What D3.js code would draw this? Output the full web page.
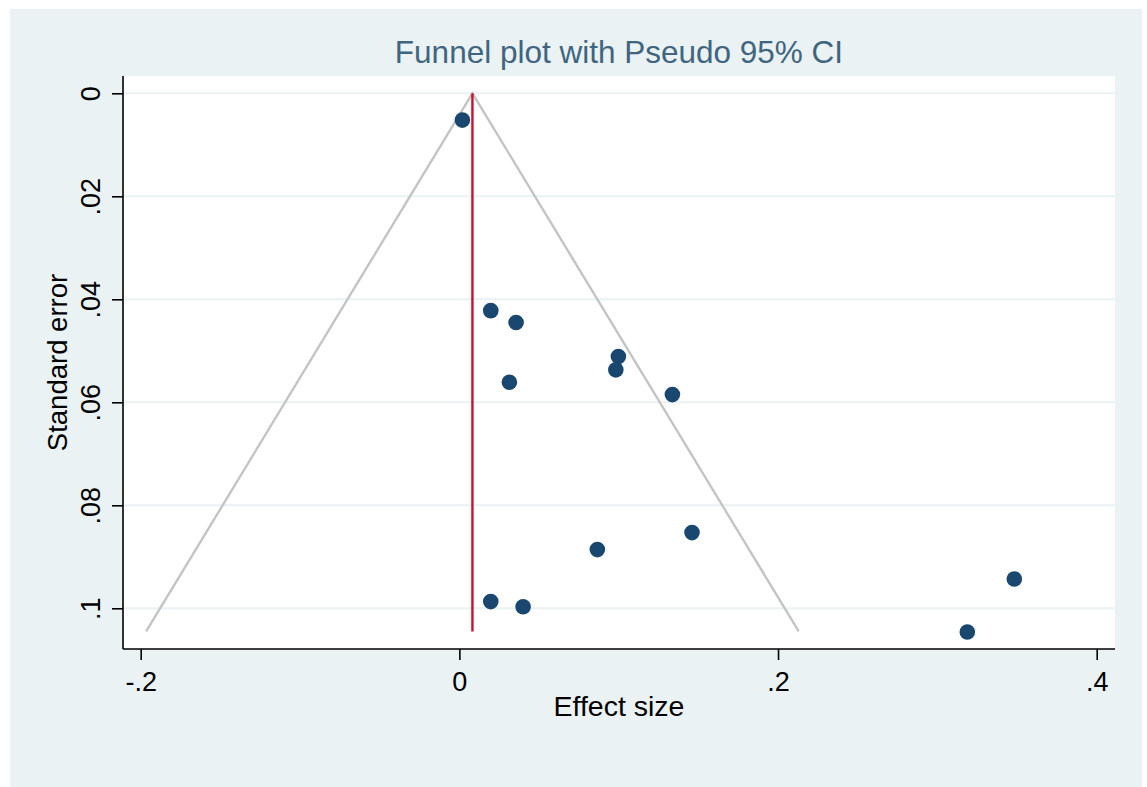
<!DOCTYPE html>
<html>
<head>
<meta charset="utf-8">
<script src="https://cdn.jsdelivr.net/npm/d3@7"></script>
<style>
  body { margin: 0; background: #fff; }
  text { font-family: "Liberation Sans", Arial, sans-serif; }
</style>
</head>
<body>
<div id="chart"></div>
<script>
// study estimates
const effect = [0.0019, 0.0197, 0.0356, 0.0998, 0.0982, 0.0314, 0.1337, 0.1460, 0.0866, 0.3483, 0.0197, 0.0400, 0.3188];
const stdErr = [0.0052, 0.0422, 0.0445, 0.0511, 0.0537, 0.0561, 0.0585, 0.0853, 0.0886, 0.0943, 0.0987, 0.0997, 0.1046];

// pooled estimate and pseudo 95% CI funnel
const pooled = 0.0082;
const funnelX = [-0.1966, 0.0082, 0.2130];
const funnelSE = [0.1045, 0, 0.1045];

const xTicks = [-0.2, 0, 0.2, 0.4];
const yTicks = [0, 0.02, 0.04, 0.06, 0.08, 0.1];
// stata style: drop the leading zero, plain hyphen for minus
const tickLabel = v => v === 0 ? "0" : String(+v.toFixed(2)).replace(/^(-?)0\./, "$1.");

const W = 1147, H = 787;
const plot = { left: 123, right: 1115, top: 76, bottom: 649 };

const svg = d3.select("#chart").append("svg")
  .attr("width", W)
  .attr("height", H);

svg.append("rect")
  .attr("x", 10).attr("y", 9)
  .attr("width", 1132).attr("height", 778)
  .attr("fill", "#eaf2f3");

svg.append("rect")
  .attr("x", plot.left).attr("y", plot.top)
  .attr("width", plot.right - plot.left).attr("height", plot.bottom - plot.top)
  .attr("fill", "#fff");

const x = d3.scaleLinear().domain([-0.2, 0.4]).range([140.7, 1096.7]);
const y = d3.scaleLinear().domain([0, 0.1]).range([93.3, 608.3]);

// grid
svg.append("g").selectAll("line")
  .data(yTicks)
  .enter().append("line")
  .attr("x1", plot.left).attr("x2", plot.right)
  .attr("y1", d => y(d)).attr("y2", d => y(d))
  .attr("stroke", "#eaf2f3")
  .attr("stroke-width", 2);

// funnel
svg.append("path")
  .datum(d3.range(funnelX.length))
  .attr("d", d3.line().x(i => x(funnelX[i])).y(i => y(funnelSE[i])))
  .attr("fill", "none")
  .attr("stroke", "#c4c4c4")
  .attr("stroke-width", 2.4);

svg.append("line")
  .attr("x1", x(pooled)).attr("x2", x(pooled))
  .attr("y1", y(0)).attr("y2", y(funnelSE[0]))
  .attr("stroke", "#c8102e")
  .attr("stroke-width", 2.4);

// points
svg.append("g").selectAll("circle")
  .data(effect)
  .enter().append("circle")
  .attr("cx", d => x(d))
  .attr("cy", (d, i) => y(stdErr[i]))
  .attr("r", 7.8)
  .attr("fill", "#1a476f");

// axes
const gx = svg.append("g")
  .attr("transform", `translate(0,${plot.bottom})`)
  .call(d3.axisBottom(x).tickValues(xTicks).tickSize(11).tickSizeOuter(0).tickFormat(tickLabel));
gx.select(".domain").attr("d", `M${plot.left},0H${plot.right}`);
gx.selectAll("text")
  .attr("y", 42).attr("dy", 0)
  .attr("font-size", 27)
  .attr("fill", "#000");

const gy = svg.append("g")
  .attr("transform", `translate(${plot.left},0)`)
  .call(d3.axisLeft(y).tickValues(yTicks).tickSize(11).tickSizeOuter(0).tickFormat(tickLabel));
gy.select(".domain").attr("d", `M0,${plot.top}V${plot.bottom}`);
gy.selectAll("text")
  .attr("x", 0).attr("dy", 0)
  .attr("transform", "translate(-23,0) rotate(-90)")
  .attr("text-anchor", "middle")
  .attr("font-size", 27)
  .attr("fill", "#000");
svg.selectAll(".domain, .tick line").attr("stroke", "#000").attr("stroke-width", 1.6);

// titles
svg.append("text")
  .attr("x", (plot.left + plot.right) / 2).attr("y", 63)
  .attr("text-anchor", "middle")
  .attr("font-size", 31.5)
  .attr("fill", "#3f6580")
  .text("Funnel plot with Pseudo 95% CI");

svg.append("text")
  .attr("x", (plot.left + plot.right) / 2).attr("y", 716)
  .attr("text-anchor", "middle")
  .attr("font-size", 28.5)
  .attr("fill", "#000")
  .text("Effect size");

svg.append("text")
  .attr("transform", `translate(67,${(plot.top + plot.bottom) / 2}) rotate(-90)`)
  .attr("text-anchor", "middle")
  .attr("font-size", 27.5)
  .attr("fill", "#000")
  .text("Standard error");
</script>
</body>
</html>
